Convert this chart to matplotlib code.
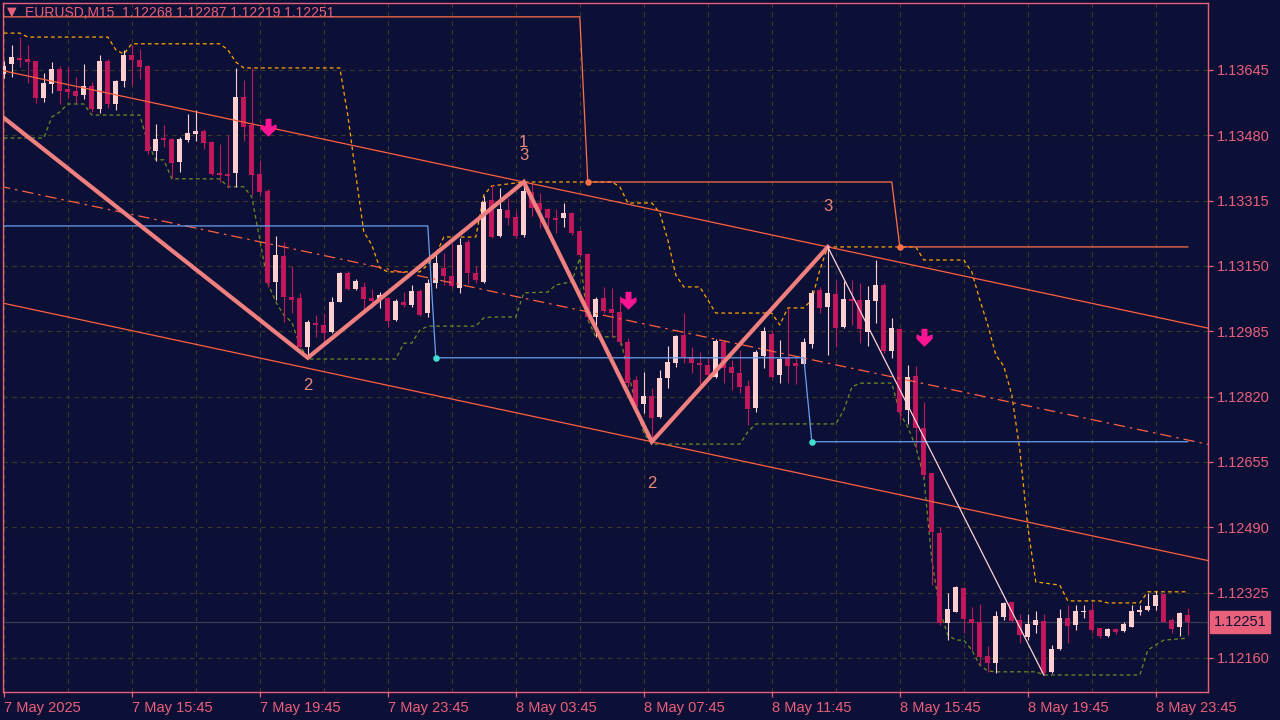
import numpy as np
import matplotlib
matplotlib.use("Agg")
import matplotlib.pyplot as plt
from matplotlib.path import Path

# EURUSD M15, bars counted from 7 May 2025 11:45
opens = [1.13635, 1.13660, 1.13675, 1.13673, 1.13668, 1.13574, 1.13610, 1.13648, 1.13597, 1.13592,
         1.13582, 1.13605, 1.13547, 1.13668, 1.13559, 1.13617, 1.13683, 1.13670, 1.13655, 1.13440,
         1.13473, 1.13471, 1.13413, 1.13468, 1.13483, 1.13491, 1.13463, 1.13385, 1.13382, 1.13385,
         1.13577, 1.13506, 1.13382, 1.13339, 1.13110, 1.13175, 1.13072, 1.13069, 1.12945, 1.13006,
         1.13001, 1.12983, 1.13059, 1.13132, 1.13092, 1.13097, 1.13069, 1.13064, 1.13069, 1.13014,
         1.13059, 1.13052, 1.13087, 1.13031, 1.13107, 1.13145, 1.13125, 1.13094, 1.13211, 1.13132,
         1.13110, 1.13317, 1.13226, 1.13291, 1.13274, 1.13228, 1.13337, 1.13309, 1.13294, 1.13271,
         1.13271, 1.13284, 1.13238, 1.13180, 1.13021, 1.13069, 1.13041, 1.13034, 1.12958, 1.12862,
         1.12801, 1.12822, 1.12769, 1.12867, 1.12905, 1.12976, 1.12920, 1.12905, 1.12900, 1.12870,
         1.12958, 1.12895, 1.12880, 1.12847, 1.12791, 1.12923, 1.12978, 1.12875, 1.12918, 1.12905,
         1.12903, 1.12953, 1.13089, 1.13046, 1.13079, 1.12996, 1.13067, 1.13064, 1.12983, 1.13062,
         1.13102, 1.12935, 1.12991, 1.12786, 1.12872, 1.12741, 1.12627, 1.12476, 1.12248, 1.12276,
         1.12337, 1.12258, 1.12251, 1.12165, 1.12147, 1.12263, 1.12301, 1.12256, 1.12213, 1.12243,
         1.12253, 1.12125, 1.12183, 1.12261, 1.12243, 1.12276, 1.12281, 1.12236, 1.12215, 1.12233,
         1.12228, 1.12238, 1.12276, 1.12281, 1.12291, 1.12322, 1.12256, 1.12238, 1.12268]
highs = [1.13668, 1.13708, 1.13728, 1.13708, 1.13668, 1.13637, 1.13665, 1.13655, 1.13653, 1.13627,
         1.13660, 1.13615, 1.13683, 1.13673, 1.13620, 1.13696, 1.13708, 1.13698, 1.13658, 1.13509,
         1.13506, 1.13473, 1.13476, 1.13534, 1.13544, 1.13496, 1.13466, 1.13458, 1.13481, 1.13650,
         1.13620, 1.13650, 1.13418, 1.13344, 1.13226, 1.13211, 1.13150, 1.13082, 1.13014, 1.13026,
         1.13031, 1.13072, 1.13135, 1.13137, 1.13117, 1.13110, 1.13092, 1.13084, 1.13069, 1.13067,
         1.13084, 1.13102, 1.13092, 1.13117, 1.13183, 1.13183, 1.13208, 1.13221, 1.13218, 1.13150,
         1.13327, 1.13355, 1.13347, 1.13322, 1.13289, 1.13362, 1.13360, 1.13334, 1.13296, 1.13294,
         1.13309, 1.13286, 1.13241, 1.13183, 1.13072, 1.13097, 1.13094, 1.13074, 1.12968, 1.12872,
         1.12882, 1.12842, 1.12887, 1.12948, 1.12976, 1.13031, 1.12945, 1.12933, 1.12920, 1.12966,
         1.12963, 1.12913, 1.12938, 1.12862, 1.12938, 1.12996, 1.12988, 1.12963, 1.13044, 1.12918,
         1.12968, 1.13089, 1.13097, 1.13198, 1.13115, 1.13112, 1.13115, 1.13107, 1.13099, 1.13165,
         1.13107, 1.13019, 1.12993, 1.12900, 1.12897, 1.12807, 1.12627, 1.12491, 1.12324, 1.12342,
         1.12339, 1.12289, 1.12296, 1.12190, 1.12279, 1.12301, 1.12301, 1.12271, 1.12271, 1.12279,
         1.12271, 1.12193, 1.12284, 1.12294, 1.12294, 1.12294, 1.12299, 1.12236, 1.12236, 1.12236,
         1.12251, 1.12294, 1.12294, 1.12324, 1.12329, 1.12324, 1.12261, 1.12276, 1.12287]
lows = [1.13625, 1.13627, 1.13653, 1.13612, 1.13562, 1.13564, 1.13587, 1.13559, 1.13574, 1.13562,
        1.13572, 1.13539, 1.13536, 1.13549, 1.13544, 1.13602, 1.13607, 1.13622, 1.13433, 1.13415,
        1.13451, 1.13372, 1.13387, 1.13463, 1.13466, 1.13446, 1.13380, 1.13362, 1.13347, 1.13350,
        1.13466, 1.13329, 1.13327, 1.13097, 1.13064, 1.13008, 1.13031, 1.12943, 1.12918, 1.12971,
        1.12958, 1.12981, 1.13059, 1.13089, 1.13089, 1.13034, 1.13044, 1.13044, 1.12996, 1.13011,
        1.13046, 1.13046, 1.13024, 1.13021, 1.13094, 1.13102, 1.13094, 1.13082, 1.13104, 1.13107,
        1.13107, 1.13221, 1.13223, 1.13254, 1.13221, 1.13223, 1.13276, 1.13246, 1.13248, 1.13233,
        1.13248, 1.13228, 1.13173, 1.13014, 1.12971, 1.13031, 1.12971, 1.12950, 1.12844, 1.12786,
        1.12779, 1.12706, 1.12766, 1.12842, 1.12895, 1.12905, 1.12880, 1.12844, 1.12870, 1.12867,
        1.12854, 1.12837, 1.12829, 1.12748, 1.12781, 1.12892, 1.12867, 1.12854, 1.12854, 1.12852,
        1.12897, 1.12943, 1.13031, 1.12925, 1.12945, 1.12993, 1.13001, 1.12955, 1.12948, 1.13006,
        1.12930, 1.12918, 1.12761, 1.12751, 1.12690, 1.12615, 1.12344, 1.12243, 1.12205, 1.12276,
        1.12223, 1.12180, 1.12142, 1.12125, 1.12122, 1.12256, 1.12251, 1.12198, 1.12205, 1.12223,
        1.12117, 1.12122, 1.12180, 1.12198, 1.12231, 1.12261, 1.12223, 1.12210, 1.12213, 1.12221,
        1.12226, 1.12238, 1.12268, 1.12279, 1.12281, 1.12251, 1.12223, 1.12215, 1.12219]
closes = [1.13655, 1.13678, 1.13670, 1.13665, 1.13574, 1.13612, 1.13648, 1.13592, 1.13589, 1.13579,
          1.13605, 1.13547, 1.13668, 1.13559, 1.13617, 1.13683, 1.13670, 1.13653, 1.13440, 1.13471,
          1.13468, 1.13410, 1.13471, 1.13486, 1.13491, 1.13461, 1.13382, 1.13380, 1.13377, 1.13577,
          1.13501, 1.13380, 1.13337, 1.13107, 1.13178, 1.13072, 1.13064, 1.12945, 1.13008, 1.13001,
          1.12981, 1.13059, 1.13132, 1.13092, 1.13112, 1.13067, 1.13062, 1.13077, 1.13011, 1.13062,
          1.13052, 1.13087, 1.13026, 1.13107, 1.13158, 1.13125, 1.13099, 1.13203, 1.13132, 1.13115,
          1.13312, 1.13223, 1.13294, 1.13271, 1.13226, 1.13339, 1.13296, 1.13291, 1.13271, 1.13266,
          1.13284, 1.13233, 1.13178, 1.13021, 1.13067, 1.13036, 1.13031, 1.12958, 1.12854, 1.12794,
          1.12822, 1.12766, 1.12867, 1.12908, 1.12973, 1.12920, 1.12905, 1.12900, 1.12875, 1.12961,
          1.12892, 1.12880, 1.12844, 1.12789, 1.12933, 1.12986, 1.12870, 1.12915, 1.12897, 1.12897,
          1.12958, 1.13082, 1.13044, 1.13082, 1.12993, 1.13067, 1.13062, 1.12991, 1.13064, 1.13102,
          1.12935, 1.12993, 1.12781, 1.12870, 1.12741, 1.12622, 1.12478, 1.12248, 1.12284, 1.12339,
          1.12258, 1.12248, 1.12162, 1.12147, 1.12266, 1.12299, 1.12253, 1.12218, 1.12246, 1.12256,
          1.12122, 1.12183, 1.12261, 1.12241, 1.12279, 1.12279, 1.12231, 1.12215, 1.12233, 1.12226,
          1.12246, 1.12279, 1.12281, 1.12291, 1.12319, 1.12251, 1.12233, 1.12274, 1.12251]

# zigzag pivots (bar, price) and their wave labels
zz_bars = [0, 38, 65, 81, 103]
zz_prices = [1.13524, 1.12918, 1.13362, 1.12706, 1.13198]
zz_labels = ["", "2", "1\n3", "2", "3"]

# last leg drawn as a thin line
leg_bars = [103, 130]
leg_prices = [1.13198, 1.12117]

# stepped high / low levels (value, first bar)
res_levels = [1.13779, 1.13362, 1.13198]
res_start = [0, 73, 112]
sup_levels = [1.13251, 1.12918, 1.12706]
sup_start = [0, 54, 101]

# dotted price envelope
env_up_bars = [0, 2, 3, 13, 14, 15, 16, 27, 28, 29, 30, 42, 43, 44, 45, 46, 47, 48, 52, 53, 54, 55,
               59, 60, 61, 65, 76, 77, 78, 81, 82, 83, 84, 85, 87, 88, 89, 96, 97, 98, 100, 101, 102,
               103, 114, 115, 120, 121, 122, 123, 124, 125, 126, 127, 128, 129, 132, 133, 137, 138,
               142, 143, 148]
env_up = [1.13738, 1.13738, 1.13728, 1.13728, 1.13696, 1.13685, 1.13711, 1.13711, 1.13696, 1.13665,
          1.13650, 1.13650, 1.13531, 1.13380, 1.13236, 1.13203, 1.13145, 1.13135, 1.13135, 1.13153,
          1.13178, 1.13223, 1.13223, 1.13329, 1.13352, 1.13362, 1.13362, 1.13350, 1.13309, 1.13309,
          1.13284, 1.13216, 1.13127, 1.13097, 1.13097, 1.13064, 1.13031, 1.13031, 1.13001, 1.13044,
          1.13044, 1.13064, 1.13140, 1.13198, 1.13198, 1.13165, 1.13165, 1.13135, 1.13064, 1.13001,
          1.12925, 1.12897, 1.12824, 1.12685, 1.12491, 1.12352, 1.12344, 1.12304, 1.12304, 1.12299,
          1.12299, 1.12327, 1.12327]
env_lo_bars = [0, 5, 6, 7, 8, 10, 11, 17, 18, 19, 20, 21, 27, 28, 30, 31, 32, 33, 34, 35, 36, 37, 38,
               49, 50, 51, 52, 53, 59, 60, 61, 64, 65, 68, 69, 71, 72, 73, 74, 77, 78, 79, 80, 81, 92,
               93, 94, 104, 105, 106, 107, 111, 112, 113, 114, 115, 116, 117, 118, 119, 120, 121, 122,
               123, 124, 129, 130, 142, 143, 144, 145, 148]
env_lo = [1.13473, 1.13473, 1.13526, 1.13539, 1.13559, 1.13559, 1.13531, 1.13531, 1.13461, 1.13418,
          1.13418, 1.13370, 1.13370, 1.13350, 1.13350, 1.13324, 1.13216, 1.13107, 1.13059, 1.13026,
          1.13008, 1.12950, 1.12915, 1.12915, 1.12955, 1.12955, 1.12988, 1.12998, 1.12998, 1.13019,
          1.13021, 1.13021, 1.13082, 1.13084, 1.13102, 1.13110, 1.13170, 1.13014, 1.12971, 1.12971,
          1.12887, 1.12799, 1.12728, 1.12700, 1.12700, 1.12731, 1.12751, 1.12751, 1.12786, 1.12844,
          1.12854, 1.12854, 1.12779, 1.12743, 1.12693, 1.12617, 1.12407, 1.12281, 1.12218, 1.12205,
          1.12205, 1.12180, 1.12142, 1.12127, 1.12125, 1.12125, 1.12117, 1.12117, 1.12180, 1.12193,
          1.12205, 1.12210]

# sell arrows
arrow_bars = [33, 78, 115]
arrow_prices = [1.13499, 1.13062, 1.12968]

price_ticks = [1.12160, 1.12325, 1.12490, 1.12655, 1.12820, 1.12985, 1.13150, 1.13315, 1.13480, 1.13645]
time_ticks = [0, 16, 32, 48, 64, 80, 96, 112, 128, 144]
time_labels = ["7 May 2025", "7 May 15:45", "7 May 19:45", "7 May 23:45", "8 May 03:45",
               "8 May 07:45", "8 May 11:45", "8 May 15:45", "8 May 19:45", "8 May 23:45"]

bg = "#0d1036"
fg = "#e8607a"
bull = "#ffcfcf"
bear = "#c0185b"

plt.rcParams["font.family"] = ["Liberation Sans", "DejaVu Sans"]

fig = plt.figure(figsize=(12.8, 7.2), dpi=100, facecolor=bg)
ax = fig.add_axes([3 / 1280, 28 / 720, 1205 / 1280, 689 / 720])
ax.set_facecolor(bg)

n = len(closes)
x = np.arange(n)
o = np.array(opens)
c = np.array(closes)
h = np.array(highs)
l = np.array(lows)
up = c >= o

# candles
ax.vlines(x[up], l[up], h[up], color=bull, lw=0.8, zorder=3)
ax.vlines(x[~up], l[~up], h[~up], color=bear, lw=0.8, zorder=3)
body = np.maximum(np.abs(c - o), 0.000012)
ax.bar(x[up], body[up], bottom=np.minimum(o, c)[up], width=0.62, color=bull, lw=0, zorder=4)
ax.bar(x[~up], body[~up], bottom=np.minimum(o, c)[~up], width=0.62, color=bear, lw=0, zorder=4)

# dotted envelope
ax.plot(env_up_bars, env_up, color="#ffa500", lw=0.9, ls=(0, (3, 2.5)), zorder=2)
ax.plot(env_lo_bars, env_lo, color="#6b8e23", lw=0.9, ls=(0, (3, 2.5)), zorder=2)

# channel through the zigzag highs, parallel through the low
slope = (zz_prices[4] - zz_prices[2]) / (zz_bars[4] - zz_bars[2])
xx = np.array([-1, n + 3])
ch_up = zz_prices[2] + slope * (xx - zz_bars[2])
ch_lo = zz_prices[3] + slope * (xx - zz_bars[3])
ax.plot(xx, ch_up, color="#ff6040", lw=0.9, zorder=5)
ax.plot(xx, ch_lo, color="#ff6040", lw=0.9, zorder=5)
ax.plot(xx, (ch_up + ch_lo) / 2, color="#ff6040", lw=0.9, ls=(0, (9, 4, 2, 4)), zorder=5)

# stepped levels
res = np.array([res_levels[np.searchsorted(res_start, i, side="right") - 1] for i in x])
sup = np.array([sup_levels[np.searchsorted(sup_start, i, side="right") - 1] for i in x])
ax.plot(x, res, color="#ff7048", lw=0.9, zorder=5)
ax.plot(x, sup, color="#6a9ff0", lw=0.9, zorder=5)
ax.scatter(res_start[1:], res_levels[1:], s=22, color="#ff7048", zorder=6, lw=0)
ax.scatter(sup_start[1:], sup_levels[1:], s=22, color="#40e0d0", zorder=6, lw=0)

# zigzag
ax.plot(zz_bars, zz_prices, color="#f08080", lw=3, zorder=7, solid_joinstyle="miter")
ax.plot(leg_bars, leg_prices, color="#ffd0d8", lw=0.9, zorder=7)
offsets = [0, -20, 24, -30, 29]
for b, p, t, off in zip(zz_bars, zz_prices, zz_labels, offsets):
    if t:
        ax.annotate(t, (b, p), xytext=(0, off), textcoords="offset points", ha="center",
                    va="center", color="#e88a78", fontsize=12, linespacing=0.85, zorder=8)

# sell arrows
arrow = Path([(-0.14, 0.55), (0.14, 0.55), (0.14, 0.05), (0.45, 0.2), (0.45, 0.0), (0.0, -0.45),
              (-0.45, 0.0), (-0.45, 0.2), (-0.14, 0.05), (-0.14, 0.55)])
ax.plot(arrow_bars, arrow_prices, ls="none", marker=arrow, ms=13, color="#ff1493",
        mec="#ff1493", zorder=8)

# bid line
ax.axhline(closes[-1], color="#3a3a52", lw=0.9, zorder=1)

ax.set_xlim(-0.1, 150.525)
ax.set_ylim(1.12074, 1.13814)

ax.yaxis.tick_right()
ax.set_yticks(price_ticks)
ax.set_yticklabels([f"{p:.5f}" for p in price_ticks])
ax.set_xticks(time_ticks)
ax.set_xticklabels(time_labels, ha="left")
ax.set_xticks(np.arange(0, 151, 8), minor=True)
ax.tick_params(axis="both", colors=fg, labelsize=10.5, length=3.5, width=0.9, direction="out")
ax.tick_params(axis="x", which="minor", length=0)
ax.tick_params(axis="x", pad=3)
ax.tick_params(axis="y", pad=3)

ax.grid(True, which="both", axis="x", color="#3b3a26", lw=0.8, ls=(0, (4, 4)))
ax.grid(True, which="major", axis="y", color="#3b3a26", lw=0.8, ls=(0, (4, 4)))
ax.set_axisbelow(True)
for s in ax.spines.values():
    s.set_color(fg)
    s.set_linewidth(1.0)

# current price tag
ax.annotate(f"{closes[-1]:.5f}", xy=(1.0, closes[-1]), xycoords=("axes fraction", "data"),
            xytext=(4, 0), textcoords="offset points", va="center", ha="left", fontsize=10.5,
            color=bg, bbox=dict(boxstyle="square,pad=0.25", fc=fg, ec=fg), annotation_clip=False)

# header
fig.text(7 / 1280, 1 - 12 / 720, "\u25bc", color=fg, fontsize=9, va="center", ha="left",
         family=["DejaVu Sans"])
fig.text(25 / 1280, 1 - 13 / 720,
         f"EURUSD,M15  {opens[-1]:.5f} {highs[-1]:.5f} {lows[-1]:.5f} {closes[-1]:.5f}",
         color=fg, fontsize=10, va="center", ha="left")

fig.savefig("out.png", dpi=100, facecolor=bg)
